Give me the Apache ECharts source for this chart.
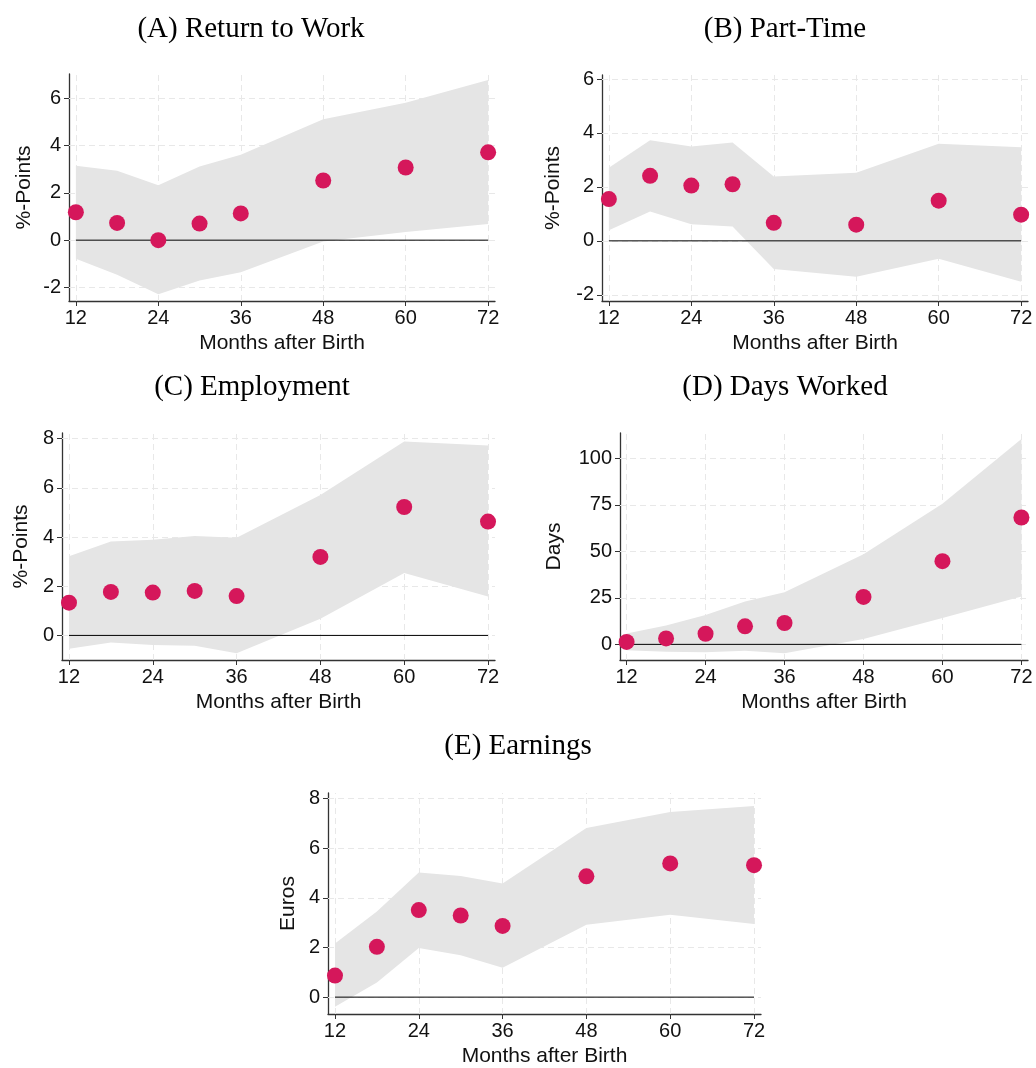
<!DOCTYPE html>
<html>
<head>
<meta charset="utf-8">
<script src="https://cdn.jsdelivr.net/npm/echarts@6/dist/echarts.min.js"></script>
<style>
html,body{margin:0;padding:0;background:#fff;}
#chart{width:1036px;height:1068px;}
</style>
</head>
<body>
<div id="chart"></div>
<script>
// ---- data ----
const months = [12, 18, 24, 30, 36, 48, 60, 72];
const xTicks = [12, 24, 36, 48, 60, 72];

const returnEst = [1.18, 0.73, 0.0, 0.70, 1.13, 2.52, 3.07, 3.71];
const returnLo  = [-0.79, -1.46, -2.29, -1.70, -1.36, -0.06, 0.34, 0.68];
const returnHi  = [3.14, 2.93, 2.32, 3.11, 3.61, 5.11, 5.81, 6.77];
const returnTicks = [-2, 0, 2, 4, 6];

const partEst = [1.55, 2.41, 2.05, 2.10, 0.67, 0.60, 1.49, 0.97];
const partLo  = [0.39, 1.09, 0.62, 0.53, -1.04, -1.33, -0.66, -1.52];
const partHi  = [2.71, 3.73, 3.50, 3.65, 2.39, 2.53, 3.60, 3.47];
const partTicks = [-2, 0, 2, 4, 6];

const emplEst = [1.33, 1.77, 1.74, 1.81, 1.60, 3.19, 5.22, 4.63];
const emplLo  = [-0.54, -0.29, -0.39, -0.42, -0.73, 0.68, 2.54, 1.58];
const emplHi  = [3.22, 3.82, 3.89, 4.04, 3.97, 5.71, 7.88, 7.72];
const emplTicks = [0, 2, 4, 6, 8];

const daysEst = [1.3, 3.2, 5.7, 9.7, 11.5, 25.5, 44.7, 68.2];
const daysLo  = [-3.1, -3.9, -4.3, -3.4, -4.8, 2.9, 14.2, 25.7];
const daysHi  = [5.9, 10.2, 15.8, 23.0, 28.0, 48.5, 75.6, 110.4];
const daysTicks = [0, 25, 50, 75, 100];

const earnEst = [0.87, 2.03, 3.51, 3.29, 2.87, 4.87, 5.39, 5.32];
const earnLo  = [-0.39, 0.59, 1.98, 1.69, 1.18, 2.92, 3.32, 2.95];
const earnHi  = [2.16, 3.45, 5.02, 4.88, 4.58, 6.82, 7.46, 7.71];
const earnTicks = [0, 2, 4, 6, 8];

const titles = ['(A) Return to Work', '(B) Part-Time', '(C) Employment', '(D) Days Worked', '(E) Earnings'];
const yNames = ['%-Points', '%-Points', '%-Points', 'Days', 'Euros'];
const xName = 'Months after Birth';

// ---- layout ----
const panels = [
  {est: returnEst, lo: returnLo, hi: returnHi, ticks: returnTicks, ymin: -2.57, ymax: 7.02, yGap: 34,
   grid: {left: 69, top: 74, width: 426, height: 227}, tx: 251, ty: 29},
  {est: partEst, lo: partLo, hi: partHi, ticks: partTicks, ymin: -2.23, ymax: 6.15, yGap: 38,
   grid: {left: 602, top: 75, width: 426, height: 226}, tx: 785, ty: 29},
  {est: emplEst, lo: emplLo, hi: emplHi, ticks: emplTicks, ymin: -1.0, ymax: 8.23, yGap: 30,
   grid: {left: 62, top: 433, width: 433, height: 227}, tx: 252, ty: 387},
  {est: daysEst, lo: daysLo, hi: daysHi, ticks: daysTicks, ymin: -8.4, ymax: 113.6, yGap: 55,
   grid: {left: 620, top: 433, width: 408, height: 227}, tx: 785, ty: 387},
  {est: earnEst, lo: earnLo, hi: earnHi, ticks: earnTicks, ymin: -0.68, ymax: 8.23, yGap: 29,
   grid: {left: 328, top: 793, width: 433, height: 226}, tx: 518, ty: 746}
];

const axisColor = '#333';
const labelFont = {fontFamily: 'Liberation Sans, Arial, sans-serif', fontSize: 20, color: '#111'};
const nameFont = {fontFamily: 'Liberation Sans, Arial, sans-serif', fontSize: 21, color: '#111'};

const grids = [], xAxes = [], yAxes = [], series = [], graphics = [];

panels.forEach((p, i) => {
  grids.push(Object.assign({containLabel: false}, p.grid));
  xAxes.push({
    type: 'value', gridIndex: i, min: 11, max: 73,
    name: xName, nameLocation: 'middle', nameGap: 32, nameMoveOverlap: false, nameTextStyle: nameFont,
    axisLine: {show: true, onZero: false, lineStyle: {color: axisColor, width: 1.3}},
    axisTick: {show: true, length: 5, lineStyle: {color: axisColor}, customValues: xTicks},
    axisLabel: Object.assign({margin: 7, customValues: xTicks}, labelFont),
    splitLine: {show: false}
  });
  yAxes.push({
    type: 'value', gridIndex: i, min: p.ymin, max: p.ymax,
    name: yNames[i], nameLocation: 'middle', nameGap: p.yGap, nameMoveOverlap: false, nameRotate: 90,
    nameTextStyle: nameFont,
    axisLine: {show: true, onZero: false, lineStyle: {color: axisColor, width: 1.3}},
    axisTick: {show: true, length: 5, lineStyle: {color: axisColor}, customValues: p.ticks},
    axisLabel: Object.assign({margin: 8, customValues: p.ticks}, labelFont),
    splitLine: {show: false}
  });
  // dashed grid lines at the tick values
  series.push({
    type: 'line', xAxisIndex: i, yAxisIndex: i, data: [], silent: true, z: 0,
    markLine: {
      z: 1, silent: true, symbol: 'none', animation: false, label: {show: false},
      lineStyle: {color: '#e8e8e8', type: [6, 4], width: 1},
      emphasis: {disabled: true},
      data: xTicks.map(v => ({xAxis: v})).concat(p.ticks.map(v => ({yAxis: v})))
    }
  });
  // confidence band polygon
  series.push({
    type: 'custom', xAxisIndex: i, yAxisIndex: i, silent: true, z: 3,
    data: months.map((m, k) => [m, p.lo[k], p.hi[k]]),
    renderItem: function (params, api) {
      if (params.dataIndex !== 0) return null;
      const up = months.map((m, k) => api.coord([m, p.hi[k]]));
      const dn = months.map((m, k) => api.coord([m, p.lo[k]])).reverse();
      return {type: 'polygon', shape: {points: up.concat(dn)}, style: {fill: '#e5e5e5'}};
    }
  });
  series.push({
    type: 'line', xAxisIndex: i, yAxisIndex: i,
    data: [[months[0], 0], [months[months.length - 1], 0]],
    symbol: 'none', lineStyle: {color: '#000', width: 1}, silent: true, z: 6
  });
  series.push({
    type: 'scatter', xAxisIndex: i, yAxisIndex: i,
    data: months.map((m, k) => [m, p.est[k]]),
    symbolSize: 16, itemStyle: {color: '#d5175b', opacity: 1}, z: 7
  });
  graphics.push({
    type: 'text', x: p.tx, y: p.ty,
    style: {text: titles[i], fontFamily: 'Liberation Serif, Times New Roman, serif', fontSize: 29,
            fill: '#000', align: 'center', verticalAlign: 'middle'}
  });
});

const chart = echarts.init(document.getElementById('chart'), null, {renderer: 'canvas'});
chart.setOption({
  animation: false,
  backgroundColor: '#fff',
  grid: grids, xAxis: xAxes, yAxis: yAxes, series: series, graphic: graphics
});
</script>
</body>
</html>
